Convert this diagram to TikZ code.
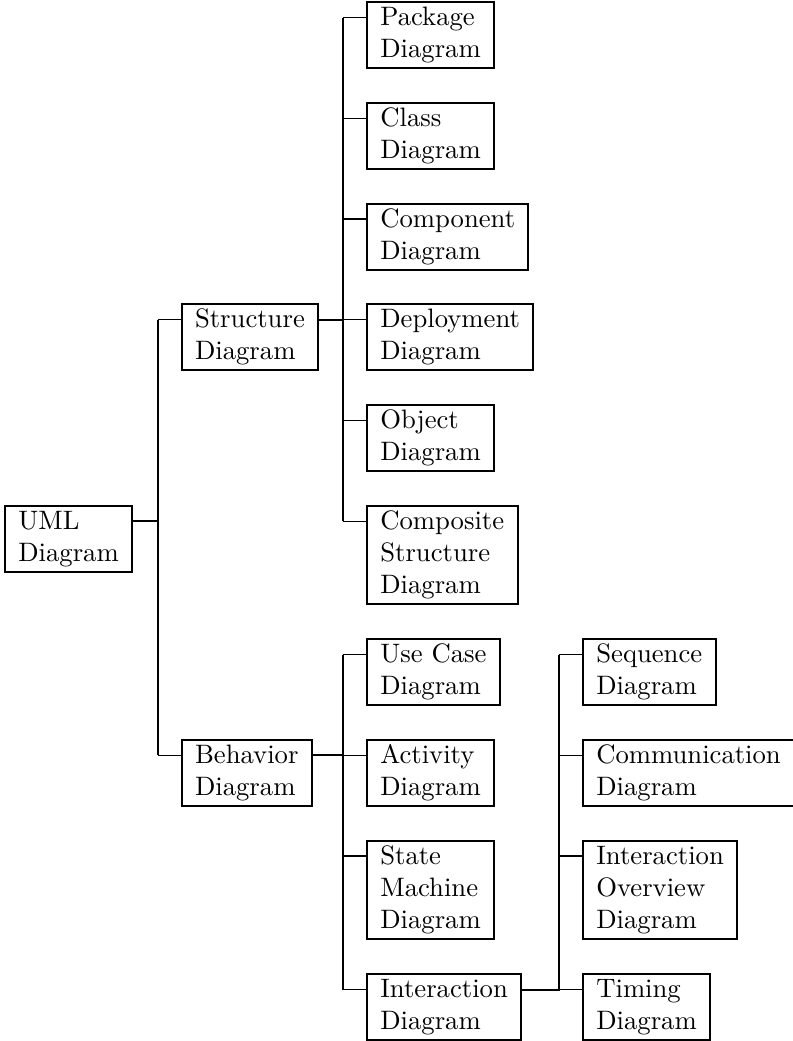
\documentclass[tikz,border=0pt]{standalone}
\usetikzlibrary{positioning}
\tikzset{
  box/.style={draw, rectangle, anchor=north west, align=left, line width=0.75pt,
    inner xsep=5pt, inner ysep=0.4pt, outer sep=0pt},
  trunk/.style={draw, line width=0.7pt},
  stub/.style={draw, line width=0.45pt}
}
\newcommand\forkedge[2]{%
  \draw[trunk] ([yshift=-5.75pt]#1.north east) -| ([xshift=-8.85pt,yshift=-5.75pt]#2.north west);
  \draw[stub] ([xshift=-8.85pt,yshift=-5.75pt]#2.north west) -- ([yshift=-5.75pt]#2.north west);}
\begin{document}
\begin{tikzpicture}[x=0.375pt, y=-0.375pt]
\useasboundingbox (0,0) rectangle (793,1041);
% level 0
\node[box] (uml) at (5,506) {\strut UML\\Diagram\strut};
% level 1
\node[box] (str) at (181.7,304.3) {\strut Structure\\Diagram\strut};
\node[box] (beh) at (181.7,740) {\strut Behavior\\Diagram\strut};
% level 2 (structure)
\node[box] (pkg) at (367,2.3) {\strut Package\\Diagram\strut};
\node[box] (cls) at (367,103) {\strut Class\\Diagram\strut};
\node[box] (cmp) at (367,203.7) {\strut Component\\Diagram\strut};
\node[box] (dep) at (367,304.3) {\strut Deployment\\Diagram\strut};
\node[box] (obj) at (367,405) {\strut Object\\Diagram\strut};
\node[box] (csd) at (367,506) {\strut Composite\\Structure\\Diagram\strut};
% level 2 (behavior)
\node[box] (ucd) at (367,639.3) {\strut Use Case\\Diagram\strut};
\node[box] (act) at (367,740) {\strut Activity\\Diagram\strut};
\node[box] (smd) at (367,840.7) {\strut State\\Machine\\Diagram\strut};
\node[box] (itd) at (367,974.3) {\strut Interaction\\Diagram\strut};
% level 3 (interaction)
\node[box] (seq) at (583,639.3) {\strut Sequence\\Diagram\strut};
\node[box] (com) at (583,740) {\strut Communication\\Diagram\strut};
\node[box] (iod) at (583,840.7) {\strut Interaction\\Overview\\Diagram\strut};
\node[box] (tim) at (583,974.3) {\strut Timing\\Diagram\strut};
% edges
\forkedge{uml}{str}
\forkedge{uml}{beh}
\forkedge{str}{pkg}
\forkedge{str}{cls}
\forkedge{str}{cmp}
\forkedge{str}{dep}
\forkedge{str}{obj}
\forkedge{str}{csd}
\forkedge{beh}{ucd}
\forkedge{beh}{act}
\forkedge{beh}{smd}
\forkedge{beh}{itd}
\forkedge{itd}{seq}
\forkedge{itd}{com}
\forkedge{itd}{iod}
\forkedge{itd}{tim}
\end{tikzpicture}
\end{document}
